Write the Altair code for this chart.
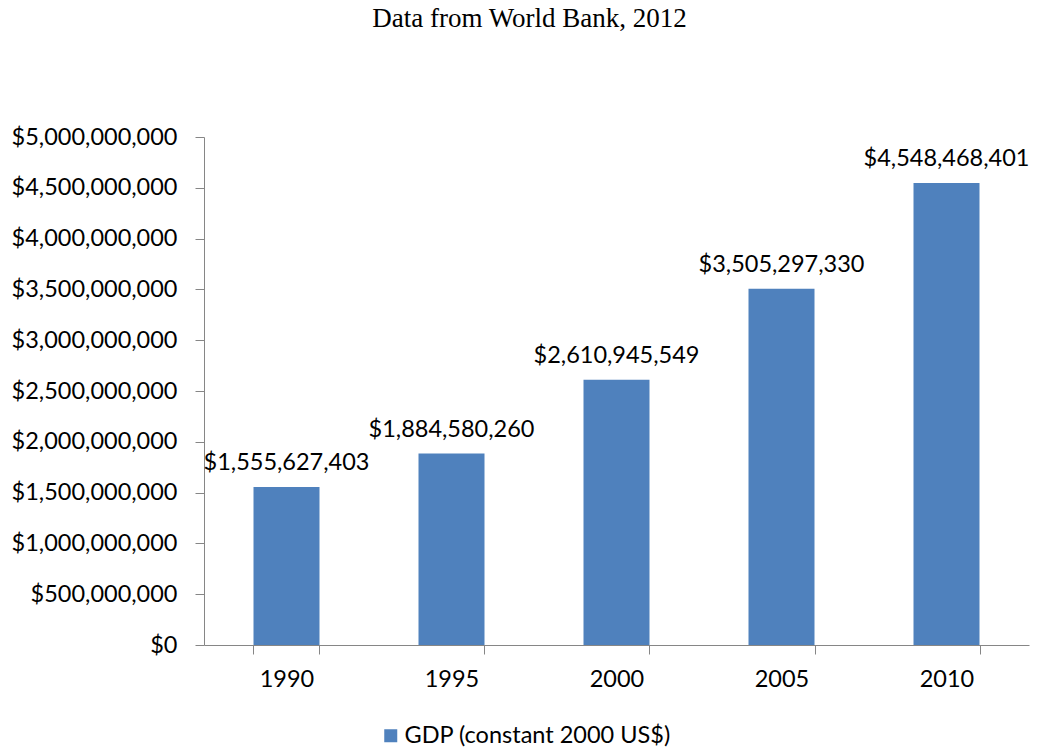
import altair as alt
import pandas as pd

years = ["1990", "1995", "2000", "2005", "2010"]
gdp = [1555627403, 1884580260, 2610945549, 3505297330, 4548468401]
series = ["GDP (constant 2000 US$)"] * 5
y_ticks = [i * 500000000 for i in range(11)]

df = pd.DataFrame({"year": years, "gdp": gdp, "series": series})

FONT = "Lato"
FS = 23.5

base = alt.Chart(df).encode(
    x=alt.X("year:N", title=None, sort=years,
            scale=alt.Scale(paddingInner=0.6, paddingOuter=0.3),
            axis=alt.Axis(labelAngle=0, tickBand="extent", tickSize=9,
                          labelPadding=13, domainColor="#868686",
                          tickColor="#868686", labelFont=FONT,
                          labelFontSize=FS, labelColor="#000000")),
    y=alt.Y("gdp:Q", title=None,
            scale=alt.Scale(domain=[0, 5000000000], nice=False),
            axis=alt.Axis(values=y_ticks, format="$,.0f", grid=False,
                          tickSize=9, labelPadding=18,
                          domainColor="#868686", tickColor="#868686",
                          labelFont=FONT, labelFontSize=FS,
                          labelColor="#000000")),
)

bars = base.mark_bar(color="#4F81BD").encode(
    color=alt.Color("series:N", title=None,
                    scale=alt.Scale(range=["#4F81BD"]),
                    legend=alt.Legend(orient="none", legendX=175, legendY=587,
                                      symbolType="square", symbolSize=169,
                                      symbolStrokeWidth=0, labelOffset=2,
                                      labelFont=FONT, labelFontSize=FS,
                                      labelColor="#000000", labelLimit=400))
)

labels = base.mark_text(baseline="bottom", dy=-12, font=FONT, fontSize=FS,
                        color="#000000").encode(
    text=alt.Text("gdp:Q", format="$,.0f")
)

chart = (bars + labels).properties(
    width=825,
    height=508,
    autosize=alt.AutoSizeParams(type="none"),
    padding={"left": 204, "top": 137, "right": 9, "bottom": 106},
    title=alt.TitleParams("Data from World Bank, 2012", font="Liberation Serif",
                          fontSize=27, fontWeight="normal", color="#000000",
                          anchor="middle", dx=-87, offset=92),
).configure_view(stroke=None)

chart.save("out.html", embed_options={"renderer": "svg", "actions": False})
